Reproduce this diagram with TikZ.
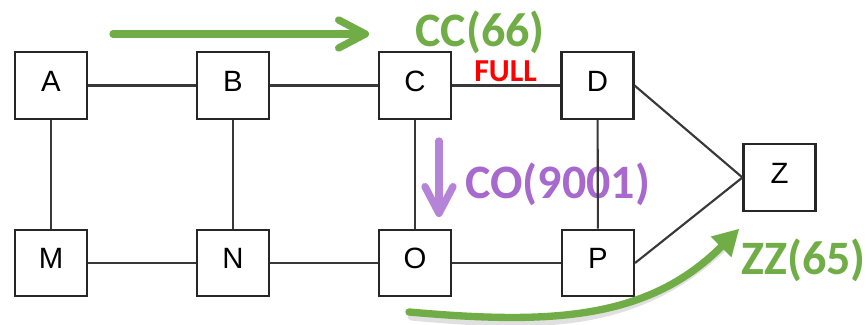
\documentclass[tikz,border=0pt]{standalone}
\usepackage{fontspec}
\usepackage{xcolor}
\usepackage{tikz}
\usetikzlibrary{arrows.meta,positioning,calc}
\setmainfont{Liberation Sans}
\newfontfamily\calloutfont{Carlito}
\definecolor{flowgreen}{RGB}{112,173,71}
\definecolor{flowpurple}{RGB}{181,132,216}
\definecolor{labelpurple}{RGB}{168,105,206}
\definecolor{fullred}{RGB}{255,0,0}

\begin{document}
\begin{tikzpicture}[x=0.75pt, y=0.75pt,
  router/.style={draw=black!85, line width=1.6pt, fill=white, minimum width=54pt, minimum height=50pt,
    inner sep=0pt, font=\fontsize{22}{22}\selectfont, text height=16pt, text depth=7pt},
  link/.style={black!78, line width=1.6pt},
  flow/.style={line width=5.5pt, line cap=round},
  callout/.style={anchor=base west, inner sep=0pt, font=\calloutfont\bfseries\fontsize{36}{36}\selectfont}]
\useasboundingbox (0,0) rectangle (865,325);
% routers
\node[router] (A) at (51,239.5) {A};
\node[router] (B) at (233,239.5) {B};
\node[router] (C) at (415,239.5) {C};
\node[router] (D) at (597.5,239.5) {D};
\node[router] (M) at (51,62) {M};
\node[router] (N) at (233,62) {N};
\node[router] (O) at (415,62) {O};
\node[router] (P) at (598,62) {P};
\node[router] (Z) at (779.5,147.5) {Z};
% labels
\node[callout, flowgreen] (cc) at (415,278) {CC(66)};
\node[callout, labelpurple] (co) at (465,126) {CO(9001)};
\node[callout, flowgreen] (zz) at (741,50) {ZZ(65)};
\node[anchor=base west, inner sep=0pt, fullred, font=\calloutfont\bfseries\fontsize{24}{24}\selectfont] (full) at (474,243) {FULL};
% links
\draw[link] (A) -- (B);
\draw[link] (B) -- (C);
\draw[link] (C) -- (D);
\draw[link] (M) -- (N);
\draw[link] (N) -- (O);
\draw[link] (O) -- (P);
\draw[link] (A) -- (M);
\draw[link] (B) -- (N);
\draw[link] (C) -- (O);
\draw[link] (D) -- (P);
\draw[link] (D.east) -- (Z.west);
\draw[link] (P.east) -- (Z.west);
% flows
\coordinate (ccfrom) at (113,291);
\coordinate (ccto) at (369,291);
\coordinate (cofrom) at (439,184);
\coordinate (coto) at (439,108);
\coordinate (zzfrom) at (409,13);
\coordinate (zzto) at (739,96);
\draw[flow, flowgreen, -{Straight Barb[length=20pt, width=21pt, round]}] (ccfrom) -- (ccto);
\draw[flow, flowpurple, -{Straight Barb[length=20pt, width=21pt, round]}] (cofrom) -- (coto);
\draw[flow, black, opacity=0.12, line width=7pt] ($(zzfrom)+(3,-4)$) to[out=-5, in=225] ($(zzto)+(-10,-12)$);
\draw[flow, flowgreen, -{Triangle[length=19pt, width=22pt, line width=0pt]}] (zzfrom) to[out=-5, in=225] (zzto);
\end{tikzpicture}
\end{document}
